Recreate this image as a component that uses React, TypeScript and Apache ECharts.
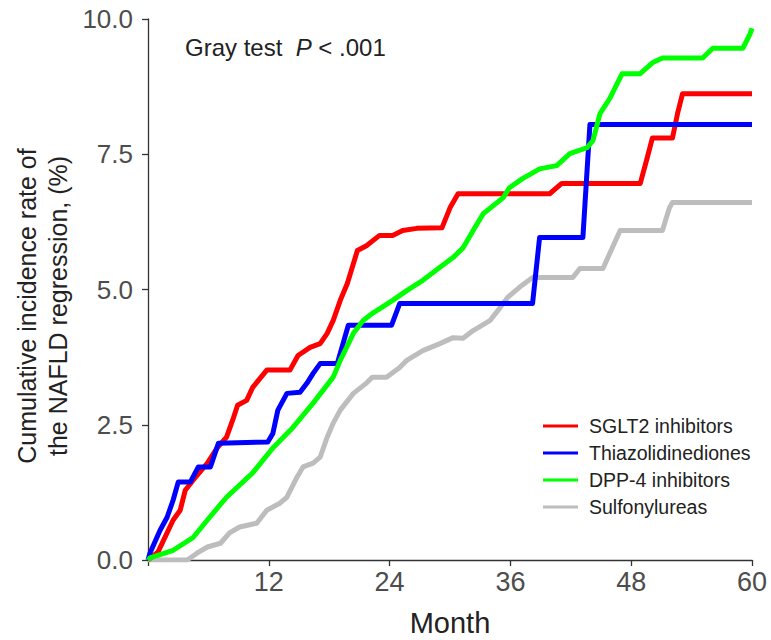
import React, { useEffect, useRef } from "react";
import * as echarts from "echarts";

// Tick labels
const xTicks = [12, 24, 36, 48, 60];
const yTicks = ["0.0", "2.5", "5.0", "7.5", "10.0"];

// Series names
const seriesNames = ["SGLT2 inhibitors", "Thiazolidinediones", "DPP-4 inhibitors", "Sulfonylureas"];
const seriesColors = ["#ff0000", "#0000ff", "#00ff00", "#bdbdbd"];

// [month, cumulative incidence %]
const sglt2Data = [
  [0, 0], [1.0, 0.15], [2.5, 0.74], [3.2, 0.92], [3.7, 1.29], [4.5, 1.48], [5.9, 1.79], [6.9, 2.08],
  [7.8, 2.27], [8.4, 2.58], [8.9, 2.86], [9.8, 2.95], [10.4, 3.19], [11.8, 3.51], [14.1, 3.51],
  [14.9, 3.78], [16.1, 3.93], [17.1, 4.0], [17.8, 4.19], [18.4, 4.43], [19.1, 4.8], [19.8, 5.11],
  [20.8, 5.72], [21.7, 5.81], [23.0, 6.0], [24.3, 6.0], [25.3, 6.09], [26.7, 6.13], [29.2, 6.14],
  [30.0, 6.51], [30.8, 6.77], [39.9, 6.77], [41.1, 6.96], [48.9, 6.96], [49.6, 7.44], [50.1, 7.8],
  [52.1, 7.8], [52.6, 8.25], [53.1, 8.62], [60, 8.62],
];

const tzdData = [
  [0, 0], [0.2, 0.13], [1.2, 0.55], [1.9, 0.79], [2.5, 1.11], [3.0, 1.44], [4.2, 1.44], [5.0, 1.72],
  [6.2, 1.72], [7.0, 2.16], [11.9, 2.18], [12.4, 2.34], [12.9, 2.77], [13.8, 3.08], [15.1, 3.1],
  [15.8, 3.27], [16.4, 3.45], [17.1, 3.63], [18.8, 3.63], [19.9, 4.34], [24.2, 4.34], [25.0, 4.74],
  [38.2, 4.74], [38.9, 5.96], [43.2, 5.96], [43.9, 8.05], [60, 8.05],
];

const dpp4Data = [
  [0, 0], [0.2, 0.04], [2.5, 0.18], [4.5, 0.42], [5.9, 0.74], [7.8, 1.16], [10.4, 1.61], [12.4, 2.07],
  [14.4, 2.45], [16.4, 2.9], [18.4, 3.38], [19.1, 3.69], [20.4, 4.19], [21.4, 4.43], [22.3, 4.56],
  [24.3, 4.8], [25.7, 4.98], [27.3, 5.17], [29.0, 5.41], [30.3, 5.59], [31.3, 5.77], [32.3, 6.09],
  [33.3, 6.4], [34.3, 6.55], [35.3, 6.7], [35.9, 6.88], [37.2, 7.05], [38.9, 7.23], [40.6, 7.29],
  [41.9, 7.51], [43.6, 7.62], [44.2, 7.75], [44.9, 8.25], [45.9, 8.54], [47.1, 8.99], [48.9, 8.99],
  [50.1, 9.19], [51.1, 9.28], [55.1, 9.28], [56.1, 9.46], [59.1, 9.46], [59.8, 9.72], [60, 9.83],
];

const suData = [
  [0, 0], [3.9, 0], [4.9, 0.13], [5.9, 0.24], [7.2, 0.31], [8.1, 0.5], [9.1, 0.61], [10.8, 0.68],
  [11.8, 0.92], [13.1, 1.05], [13.8, 1.16], [14.8, 1.53], [15.4, 1.72], [16.4, 1.79], [17.1, 1.9],
  [17.8, 2.27], [18.4, 2.53], [19.1, 2.77], [20.4, 3.08], [21.7, 3.27], [22.3, 3.38], [23.7, 3.38],
  [25.0, 3.56], [25.7, 3.69], [27.3, 3.87], [29.0, 4.0], [30.3, 4.11], [31.3, 4.1], [32.3, 4.24],
  [34.0, 4.43], [35.0, 4.67], [35.7, 4.85], [36.9, 5.04], [38.2, 5.22], [42.2, 5.22], [42.9, 5.39],
  [45.2, 5.39], [45.9, 5.68], [46.9, 6.09], [51.1, 6.09], [51.8, 6.51], [52.1, 6.61], [60, 6.61],
];

const allData = [sglt2Data, tzdData, dpp4Data, suData];
const zOrder = [3, 4, 5, 2];

const FONT = "Liberation Sans, Arial, Helvetica, sans-serif";

export default function App() {
  const ref = useRef<HTMLDivElement>(null);

  useEffect(() => {
    if (!ref.current) return;
    const chart = echarts.init(ref.current, undefined, { renderer: "svg" });
    const option = {
      animation: false,
      backgroundColor: "#ffffff",
      grid: { left: 148, right: 19, top: 19, bottom: 80, containLabel: false },
      xAxis: {
        type: "value",
        min: 0,
        max: 60,
        interval: 12,
        axisLine: { show: true, lineStyle: { color: "#333", width: 1.3 } },
        axisTick: { show: true, length: 6, lineStyle: { color: "#333", width: 1.3 } },
        splitLine: { show: false },
        axisLabel: {
          margin: 8,
          fontSize: 27,
          color: "#4d4d4d",
          fontFamily: FONT,
          formatter: (v: number) => (xTicks.indexOf(v) >= 0 ? String(v) : ""),
        },
      },
      yAxis: {
        type: "value",
        min: 0,
        max: 10,
        interval: 2.5,
        axisLine: { show: true, lineStyle: { color: "#333", width: 1.3 } },
        axisTick: { show: true, length: 6, lineStyle: { color: "#333", width: 1.3 } },
        splitLine: { show: false },
        axisLabel: {
          margin: 15,
          fontSize: 26,
          color: "#4d4d4d",
          fontFamily: FONT,
          formatter: (v: number) => yTicks[Math.round(v / 2.5)] ?? "",
        },
      },
      legend: {
        orient: "vertical",
        left: 538,
        top: 411,
        itemWidth: 35,
        itemHeight: 3,
        itemGap: 7,
        icon: "rect",
        data: seriesNames,
        textStyle: {
          fontSize: 19.5,
          lineHeight: 20,
          color: "#222",
          fontFamily: FONT,
          padding: [0, 0, 0, 6],
        },
      },
      graphic: [
        {
          type: "text",
          x: 42,
          y: 306,
          rotation: Math.PI / 2,
          style: {
            text: "Cumulative incidence rate of\nthe NAFLD regression, (%)",
            fontSize: 25,
            lineHeight: 31,
            fontFamily: FONT,
            fill: "#222",
            align: "center",
            verticalAlign: "middle",
          },
        },
        {
          type: "text",
          x: 450,
          y: 623,
          style: {
            text: "Month",
            fontSize: 29,
            fontFamily: FONT,
            fill: "#222",
            align: "center",
            verticalAlign: "middle",
          },
        },
        {
          type: "text",
          x: 185,
          y: 47,
          style: {
            text: "{n|Gray test  }{i|P}{n| < .001}",
            verticalAlign: "middle",
            align: "left",
            rich: {
              n: { fontSize: 24, fontFamily: FONT, fill: "#222" },
              i: { fontSize: 24, fontFamily: FONT, fontStyle: "italic", fill: "#222" },
            },
          },
        },
      ],
      series: seriesNames.map((name, i) => ({
        name,
        type: "line",
        data: allData[i],
        showSymbol: false,
        symbol: "none",
        z: zOrder[i],
        color: seriesColors[i],
        lineStyle: { color: seriesColors[i], width: 5, join: "round" },
      })),
    };
    chart.setOption(option as any);
    return () => chart.dispose();
  }, []);

  return (
    <div
      ref={ref}
      style={{ position: "fixed", left: 0, top: 0, width: 771, height: 640, background: "#fff" }}
    />
  );
}
